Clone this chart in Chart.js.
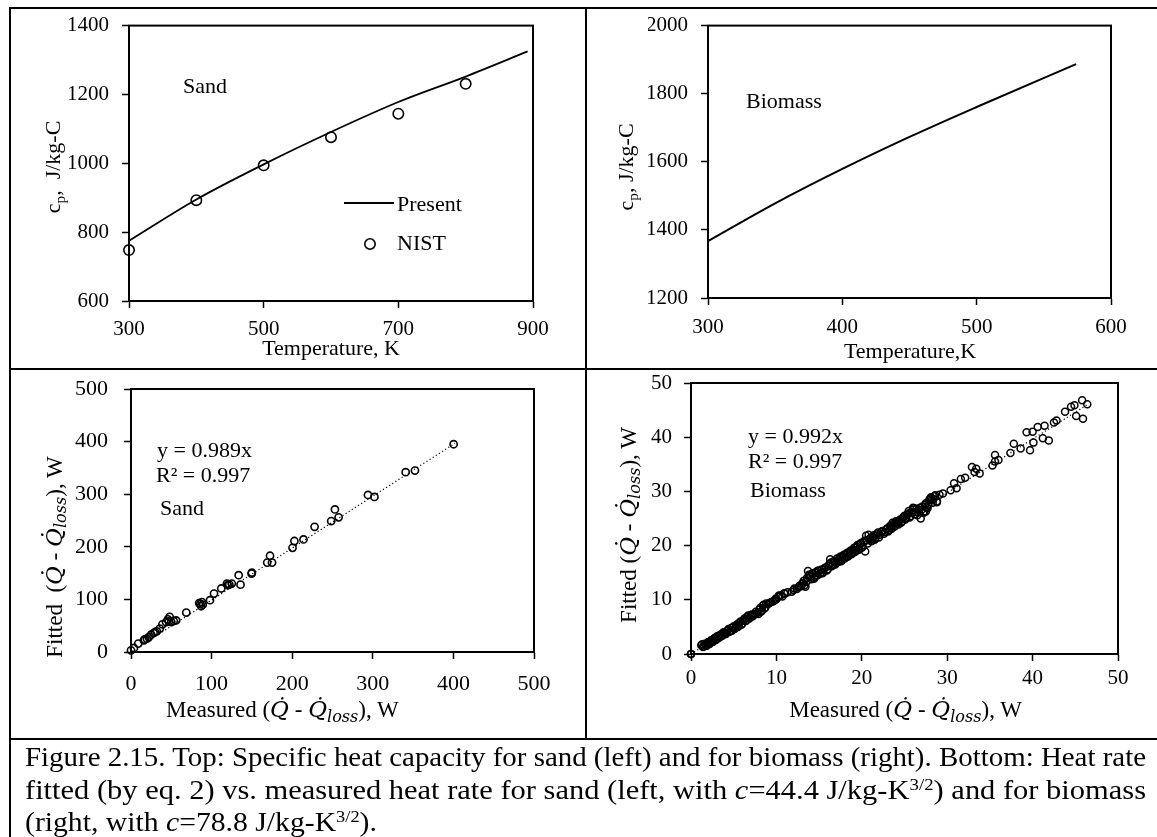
<!DOCTYPE html>
<html><head><meta charset="utf-8">
<script src="https://cdn.jsdelivr.net/npm/chart.js@4.4.0/dist/chart.umd.min.js"></script>
<style>
html,body{margin:0;padding:0;background:#fff;}
body{width:1157px;height:837px;overflow:hidden;position:relative;font-family:"Liberation Serif","Times New Roman",serif;color:#000}
canvas{position:absolute;left:0;top:0}
.ln{position:absolute;background:#000}
.t{position:absolute;white-space:nowrap;line-height:1}
.c{transform:translate(-50%,-50%)}
.l{transform:translateY(-50%)}
.r{transform:translate(-50%,-50%) rotate(-90deg)}
.m{font-family:"DejaVu Serif",serif;font-style:italic;font-size:1em}
.cap{position:absolute;left:25px;white-space:nowrap;line-height:1;font-size:27px;transform-origin:0 0}
sup{font-size:0.62em;vertical-align:0.55em;line-height:0}
sub{font-size:0.7em;vertical-align:-0.3em;line-height:0}
</style></head>
<body>
<!-- table lines -->
<div class="ln" style="left:9px;top:7px;width:1148px;height:2px"></div>
<div class="ln" style="left:9px;top:7px;width:2px;height:830px"></div>
<div class="ln" style="left:585px;top:7px;width:2px;height:733px"></div>
<div class="ln" style="left:9px;top:368px;width:1148px;height:2px"></div>
<div class="ln" style="left:9px;top:738px;width:1148px;height:2px"></div>

<canvas id="c1" width="1157" height="837"></canvas>
<canvas id="c2" width="1157" height="837"></canvas>
<canvas id="c3" width="1157" height="837"></canvas>
<canvas id="c4" width="1157" height="837"></canvas>

<!-- top-left texts -->
<div class="t l" style="left:183px;top:86px;font-size:22px">Sand</div>
<div class="t r" style="left:53px;top:167px;font-size:22px">c<sub>p</sub>,&nbsp; J/kg-C</div>
<div class="t c" style="left:331px;top:348px;font-size:22px">Temperature, K</div>
<!-- top-right texts -->
<div class="t l" style="left:746px;top:101px;font-size:22px">Biomass</div>
<div class="t r" style="left:626px;top:167px;font-size:22px">c<sub>p</sub>, J/kg-C</div>
<div class="t c" style="left:910px;top:351px;font-size:22px">Temperature,K</div>
<!-- bottom-left texts -->
<div class="t l" style="left:157px;top:450px;font-size:22px">y = 0.989x</div>
<div class="t l" style="left:156px;top:475px;font-size:22px">R² = 0.997</div>
<div class="t l" style="left:160px;top:508px;font-size:22px">Sand</div>
<div class="t r" style="left:54px;top:557px;font-size:23px">Fitted&nbsp; (<span class="m">Q̇</span> - <span class="m">Q̇<sub>loss</sub></span>), W</div>
<div class="t" id="xt3" style="left:166px;top:698px;font-size:23px">Measured (<span class="m">Q̇</span> - <span class="m">Q̇<sub>loss</sub></span>), W</div>
<!-- bottom-right texts -->
<div class="t l" style="left:748px;top:436px;font-size:22px">y = 0.992x</div>
<div class="t l" style="left:748px;top:461px;font-size:22px">R² = 0.997</div>
<div class="t l" style="left:750px;top:490px;font-size:22px">Biomass</div>
<div class="t r" style="left:628px;top:525px;font-size:23px">Fitted (<span class="m">Q̇</span> - <span class="m">Q̇<sub>loss</sub></span>), W</div>
<div class="t" id="xt4" style="right:135px;top:698px;font-size:23px">Measured (<span class="m">Q̇</span> - <span class="m">Q̇<sub>loss</sub></span>), W</div>

<!-- caption -->
<div class="cap" id="cap1" style="top:744px">Figure 2.15. Top: Specific heat capacity for sand (left) and for biomass (right). Bottom: Heat rate</div>
<div class="cap" id="cap2" style="top:777px">fitted (by eq. 2) vs. measured heat rate for sand (left, with <i>c</i>=44.4 J/kg-K<sup>3/2</sup>) and for biomass</div>
<div class="cap" id="cap3" style="top:809px">(right, with <i>c</i>=78.8 J/kg-K<sup>3/2</sup>).</div>

<script>
// ---------------- data ----------------
const sandTemp    = [300, 400, 500, 600, 700, 800, 892];
const sandPresent = [775, 895, 997, 1091, 1178, 1252, 1325];
const nistTemp    = [300, 400, 500, 600, 700, 800];
const nistCp      = [748, 893, 994, 1076, 1144, 1231];

const bioTemp     = [300, 350, 400, 450, 500, 574];
const bioPresent  = [1367, 1478, 1579, 1673, 1761, 1887];

const sandMeasured = [0, 3.7, 9, 16, 17, 19.7, 22, 25, 28, 30, 32, 35.7, 39, 43.5, 45.8, 47, 48, 50, 53, 56, 68.6, 84.6, 86, 87, 88, 89, 98, 103, 112, 119, 120, 122, 125, 133.6, 135.9, 149.6, 150, 169, 172.5, 175, 200.4, 202.7, 214, 227.8, 248.4, 253, 257.6, 294, 302, 340.8, 352.3, 400.3];
const sandFitted   = [3, 7.6, 16, 22, 24, 25.4, 28, 33, 36, 38, 39.4, 44.5, 52.7, 57, 62, 58, 66.7, 57, 59, 60, 75, 93, 91, 87, 95, 90, 98.5, 111, 120.7, 130, 127, 128, 130, 146, 128, 149, 151, 170, 183, 170, 198, 211, 214, 238, 249, 271, 256, 298.6, 294.8, 341.8, 345, 395];
const sandTrendX = [0, 402];
const sandTrendY = [0, 397];

const bioMeasured = [0, 0, 0, 1.2, 1.4, 1.6, 1.8, 2.0, 2.2, 2.4, 2.6, 2.8, 3.0, 3.1, 3.3, 3.5, 3.7, 3.9, 4.1, 4.3, 4.5, 4.7, 4.8, 5.0, 5.2, 5.4, 5.6, 5.8, 6.0, 6.2, 6.4, 6.6, 6.8, 7.0, 7.2, 7.5, 7.8, 8.0, 8.2, 8.4, 8.6, 8.8, 9.2, 9.6, 9.9, 10.2, 10.5, 10.9, 11.3, 11.8, 12.1, 12.4, 12.7, 13.0, 13.2, 13.4, 13.6, 13.7, 13.9, 14.1, 14.3, 14.5, 14.7, 14.9, 15.1, 15.3, 15.5, 15.8, 16.0, 16.2, 16.3, 16.5, 16.7, 16.9, 17.1, 17.3, 17.5, 17.7, 17.9, 18.1, 18.3, 18.5, 18.7, 18.9, 19.1, 19.3, 19.5, 19.7, 19.9, 20.1, 20.3, 20.4, 20.5, 20.7, 20.9, 21.1, 21.3, 21.5, 21.8, 22.0, 22.3, 22.6, 22.9, 23.1, 23.3, 23.5, 23.7, 23.9, 24.1, 24.3, 24.5, 24.7, 24.9, 25.1, 25.3, 25.5, 25.7, 25.9, 26.1, 26.3, 26.5, 26.7, 26.9, 27.1, 27.3, 27.5, 27.7, 27.9, 28.1, 28.3, 28.5, 28.8, 29.1, 29.5, 28.6, 28.2, 28.8, 27.5, 26.0, 30.4, 30.8, 31.1, 31.6, 32.1, 32.9, 33.2, 33.4, 33.8, 35.3, 35.6, 35.6, 36.0, 37.4, 37.8, 38.6, 39.3, 39.7, 40.0, 40.1, 40.6, 41.2, 41.4, 41.9, 42.5, 42.8, 43.8, 44.5, 44.9, 45.1, 45.8, 45.9, 46.4,
  1.3, 1.5, 1.7, 1.9, 2.1, 2.3, 2.5, 2.7, 2.9, 3.2, 3.4, 3.6, 3.8, 4.0, 4.2, 4.4, 4.6, 4.9, 5.1, 5.3, 5.5, 5.7, 5.9, 6.1, 6.3, 6.5, 6.7, 6.9, 7.1, 7.3, 7.6, 7.9, 8.1, 8.3, 8.5, 8.7, 9.0, 9.4, 9.8, 10.0, 10.3, 10.7, 11.0, 12.0, 12.6, 12.9, 13.1, 13.3, 13.5, 13.8, 14.0, 14.2, 14.4, 14.6, 14.8, 15.0, 15.2, 15.4, 15.6, 15.9, 16.1, 16.4, 16.6, 16.8, 17.0, 17.2, 17.4, 17.6, 17.8, 18.0, 18.2, 18.4, 18.6, 18.8, 19.0, 19.2, 19.4, 19.6, 19.8, 20.0, 20.2, 20.6, 20.8, 21.0, 21.2, 21.4, 21.6, 21.9, 22.1, 22.4, 22.7, 23.0, 23.2, 23.4, 23.6, 23.8, 24.0, 24.2, 24.4, 24.6, 24.8, 25.0, 25.2, 25.4, 25.6, 25.8, 26.0, 26.2, 26.4, 26.6, 26.8, 27.0, 27.2, 27.4, 27.6, 27.8, 28.0, 28.4];
const bioFitted   = [0, 0, 0, 1.6, 1.3, 1.9, 1.5, 2.2, 1.9, 2.6, 2.3, 3.0, 2.7, 3.3, 3.0, 3.6, 3.4, 3.9, 3.7, 4.4, 4.1, 4.8, 4.3, 5.1, 4.8, 5.5, 5.2, 6.0, 5.6, 6.4, 6.1, 6.9, 6.5, 7.2, 6.9, 7.4, 7.6, 8.2, 7.8, 8.9, 8.4, 9.3, 9.4, 9.7, 10.2, 10.5, 10.8, 11.2, 11.4, 11.5, 12.1, 12.0, 12.6, 12.9, 13.5, 12.4, 14.0, 15.3, 14.5, 13.8, 14.8, 14.2, 15.2, 15.4, 14.8, 15.6, 15.1, 16.0, 15.6, 16.6, 17.5, 16.2, 17.1, 16.5, 17.6, 17.0, 18.0, 17.4, 18.3, 17.8, 18.7, 18.2, 19.1, 18.6, 19.6, 19.0, 20.1, 19.4, 20.5, 19.8, 20.9, 18.9, 21.8, 20.4, 21.2, 20.8, 21.6, 21.1, 22.1, 21.5, 22.5, 22.2, 23.0, 22.6, 23.6, 23.1, 24.0, 23.6, 24.3, 23.9, 24.8, 24.4, 25.3, 24.8, 25.7, 26.4, 25.4, 26.0, 26.9, 26.2, 25.6, 26.5, 25.0, 27.2, 26.3, 27.8, 26.9, 28.4, 28.9, 27.9, 29.1, 28.2, 29.4, 29.6, 29.3, 28.4, 28.0, 26.3, 27.0, 30.2, 31.5, 30.6, 32.3, 32.5, 34.5, 33.6, 34.2, 33.3, 34.8, 35.5, 36.7, 35.8, 37.1, 38.8, 37.9, 40.9, 37.6, 41.0, 39.0, 41.9, 39.8, 42.1, 39.4, 42.7, 43.1, 44.7, 45.6, 45.9, 43.9, 46.8, 43.4, 46.1,
  1.8, 1.4, 1.7, 2.0, 1.8, 2.4, 2.2, 2.8, 2.6, 3.1, 3.5, 3.3, 4.0, 3.8, 4.2, 4.6, 4.2, 4.9, 4.6, 5.3, 5.0, 5.8, 5.4, 6.2, 6.6, 6.2, 7.1, 6.7, 7.3, 7.1, 7.8, 7.4, 8.5, 8.0, 9.1, 8.6, 9.2, 9.6, 9.9, 10.1, 10.8, 10.6, 11.1, 11.8, 12.3, 12.5, 13.1, 12.7, 13.3, 14.6, 14.2, 14.9, 13.9, 15.0, 14.5, 15.3, 15.0, 14.9, 15.8, 15.4, 16.3, 16.9, 16.4, 16.9, 16.8, 17.3, 17.8, 17.1, 18.1, 17.6, 18.5, 18.0, 18.9, 18.4, 19.3, 18.8, 19.8, 19.2, 20.3, 19.6, 20.6, 21.0, 22.0, 21.4, 20.9, 21.9, 21.3, 22.4, 22.0, 22.7, 22.5, 23.2, 22.9, 23.4, 24.2, 23.5, 24.5, 24.1, 24.6, 24.2, 25.0, 25.5, 25.1, 25.9, 25.2, 26.2, 26.6, 25.8, 26.8, 26.1, 27.0, 26.6, 26.0, 27.5, 27.1, 27.6, 28.7, 28.6];
const bioTrendX = [0, 46.5];
const bioTrendY = [0, 46.1];

const tlXTicks = [300, 500, 700, 900];
const tlYTicks = [600, 800, 1000, 1200, 1400];
const trXTicks = [300, 400, 500, 600];
const trYTicks = [1200, 1400, 1600, 1800, 2000];
const blTicks  = [0, 100, 200, 300, 400, 500];
const brTicks  = [0, 10, 20, 30, 40, 50];

// ---------------- helpers ----------------
const FONT = '"Liberation Serif", "Times New Roman", serif';
const W = 1157, H = 837;
const pts = (xs, ys) => xs.map((x, i) => ({x: x, y: ys[i]}));

function axis(ticksArr, size, pad, isY) {
  return {
    type: 'linear',
    min: ticksArr[0], max: ticksArr[ticksArr.length - 1],
    afterBuildTicks: ax => { ax.ticks = ticksArr.map(v => ({value: v})); },
    afterFit: ax => { if (isY) ax.width = 60; else ax.height = 60; },
    ticks: {color: '#000', font: {family: FONT, size: size}, padding: pad,
            callback: v => String(v), maxRotation: 0, autoSkip: false},
    grid: {drawOnChartArea: false, drawTicks: true, tickLength: 7,
           tickColor: '#000', tickWidth: 1.5, color: '#000'},
    border: {display: true, color: '#000', width: 2},
    title: {display: false}
  };
}

const framePlugin = {
  id: 'frame',
  beforeDatasetsDraw(chart) {
    const a = chart.chartArea, ctx = chart.ctx;
    ctx.save();
    ctx.strokeStyle = '#000'; ctx.lineWidth = 2;
    ctx.strokeRect(a.left, a.top, a.right - a.left, a.bottom - a.top);
    ctx.restore();
  }
};

function make(id, area, datasets, xT, yT, size, padX, padY, extra) {
  return new Chart(document.getElementById(id), {
    type: 'scatter',
    data: {datasets: datasets},
    options: {
      responsive: false, animation: false, events: [],
      layout: {padding: {left: area.L - 60, top: area.T, right: W - area.R, bottom: H - area.B - 60}},
      scales: {x: axis(xT, size, padX, false), y: axis(yT, size, padY, true)},
      plugins: {legend: {display: false}, tooltip: {enabled: false}}
    },
    plugins: [framePlugin].concat(extra || [])
  });
}

// ---------------- chart 1: sand cp ----------------
const legendPlugin = {
  id: 'legend1',
  afterDraw(chart) {
    const ctx = chart.ctx;
    const ds = chart.data.datasets;
    ctx.save();
    ctx.fillStyle = '#000';
    ctx.font = '22px ' + FONT;
    ctx.textBaseline = 'middle';
    ctx.strokeStyle = ds[0].borderColor; ctx.lineWidth = ds[0].borderWidth;
    ctx.beginPath(); ctx.moveTo(344, 203); ctx.lineTo(394, 203); ctx.stroke();
    ctx.fillText(ds[0].label, 397, 205);
    ctx.lineWidth = ds[1].borderWidth;
    ctx.beginPath(); ctx.arc(370, 244, ds[1].pointRadius, 0, Math.PI * 2); ctx.stroke();
    ctx.fillText(ds[1].label, 397, 244);
    ctx.restore();
  }
};

make('c1', {L: 129, T: 25, R: 533, B: 301}, [
  {label: 'Present', data: pts(sandTemp, sandPresent), showLine: true, borderColor: '#000',
   borderWidth: 1.8, pointRadius: 0, cubicInterpolationMode: 'monotone', clip: false},
  {label: 'NIST', data: pts(nistTemp, nistCp), showLine: false, borderColor: '#000',
   backgroundColor: 'rgba(0,0,0,0)', borderWidth: 1.6, pointRadius: 5.2, clip: false}
], tlXTicks, tlYTicks, 21, 9, 13, [legendPlugin]);

// ---------------- chart 2: biomass cp ----------------
make('c2', {L: 708, T: 24, R: 1111, B: 298}, [
  {label: 'Present', data: pts(bioTemp, bioPresent), showLine: true, borderColor: '#000',
   borderWidth: 2, pointRadius: 0, cubicInterpolationMode: 'monotone', clip: false}
], trXTicks, trYTicks, 21, 10, 13);

// ---------------- chart 3: sand fitted vs measured ----------------
make('c3', {L: 131, T: 389, R: 534, B: 652}, [
  {label: 'Trend', data: pts(sandTrendX, sandTrendY), showLine: true, borderColor: '#000',
   borderWidth: 1.2, borderDash: [1.2, 2.5], pointRadius: 0, clip: false},
  {label: 'Sand', data: pts(sandMeasured, sandFitted), showLine: false, borderColor: '#000',
   backgroundColor: 'rgba(0,0,0,0)', borderWidth: 1.6, pointRadius: 3.6, clip: false}
], blTicks, blTicks, 22, 12, 16);

// ---------------- chart 4: biomass fitted vs measured ----------------
make('c4', {L: 691, T: 383, R: 1118, B: 654}, [
  {label: 'Trend', data: pts(bioTrendX, bioTrendY), showLine: true, borderColor: '#000',
   borderWidth: 1.2, borderDash: [1.2, 2.5], pointRadius: 0, clip: false},
  {label: 'Biomass', data: pts(bioMeasured, bioFitted), showLine: false, borderColor: '#000',
   backgroundColor: 'rgba(0,0,0,0)', borderWidth: 1.5, pointRadius: 3.5, clip: false}
], brTicks, brTicks, 21, 5, 12);

// ---------------- caption fitting ----------------
(function () {
  const target = 1121;
  const c1 = document.getElementById('cap1'), c2 = document.getElementById('cap2'), c3 = document.getElementById('cap3');
  const s1 = target / c1.getBoundingClientRect().width;
  const s2 = target / c2.getBoundingClientRect().width;
  c1.style.transform = 'scaleX(' + s1 + ')';
  c2.style.transform = 'scaleX(' + s2 + ')';
  c3.style.transform = 'scaleX(' + ((s1 + s2) / 2) + ')';
})();
</script>
</body></html>
